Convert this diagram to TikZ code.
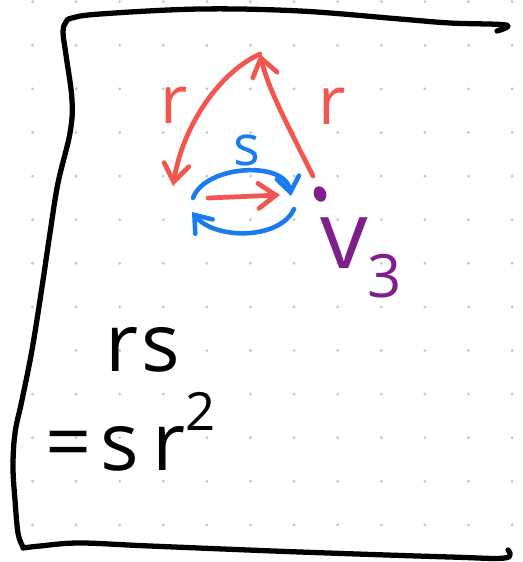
\documentclass[tikz,border=0pt]{standalone}
\usepackage{fontspec}
\setmainfont{Open Sans}
\usepackage{xcolor}
\usetikzlibrary{arrows.meta,shapes.geometric}

\definecolor{penred}{HTML}{F2564F}
\definecolor{penblue}{HTML}{1A7BF0}
\definecolor{penpurple}{HTML}{7E1F8A}

\begin{document}
\begin{tikzpicture}[
  x=0.02cm,y=-0.02cm,
  ink/.style={line width=3pt,line cap=round,line join=round},
  redarr/.style={ink,draw=penred,line width=2.7pt,-{Straight Barb[length=3.5mm,width=5mm,line cap=round]}},
  bluearr/.style={ink,draw=penblue,line width=2.6pt,-{Straight Barb[length=3mm,width=4.5mm,line cap=round]}},
  hand/.style={inner sep=0pt,font=\fontsize{40}{44}\selectfont},
  vdot/.style={ellipse,fill=penpurple,inner sep=0pt,minimum width=7pt,minimum height=9pt,rotate=20}
]
\useasboundingbox (0,0) rectangle (523,562);
\fill[white] (0,0) rectangle (523,562);

\foreach \i in {0,...,11}
  \foreach \j in {0,...,12}
    \fill[gray!45] (32.5+43.6*\i,1.7+43.6*\j) circle (0.9pt);

\draw[ink] plot[smooth,tension=0.6] coordinates {(497,31)(506,25)(450,23)(400,19)(300,11)(200,9)(100,14)(72,18)(66,22)(63,32)(66,55)(72,100)(70,133)(58,183)(50,233)(42,287)(32,350)(22,400)(15,433)(13,467)(15,500)(18,533)(23,547)};
\draw[ink] plot[smooth,tension=0.6] coordinates {(23,548)(40,546)(80,543)(150,546)(300,552)(450,557)(505,558)(508,550)};

\node[vdot] (vthree) at (320,194) {};
\coordinate (apex) at (260,54);
\coordinate (corner) at (173,186);
\coordinate (rstart) at (313,176);
\coordinate (rtail) at (208,198);
\coordinate (rhead) at (280,195);
\coordinate (ltop) at (193,198);
\coordinate (rtop) at (291,196);
\coordinate (rbot) at (294,209);
\coordinate (lbot) at (192,212);

\draw[redarr] (rstart) .. controls (285,120) and (268,88) .. (apex);
\draw[redarr] (apex) .. controls (220,72) and (183,125) .. (corner);
\draw[redarr] (rtail) -- (rhead);
\draw[bluearr] (ltop) .. controls (205,165) and (285,160) .. (rtop);
\draw[bluearr] (rbot) .. controls (280,240) and (215,240) .. (lbot);

\node[hand,text=penred,font=\fontsize{38}{40}\selectfont] (rleft) at (174,105) {r};
\node[hand,text=penred,font=\fontsize{38}{40}\selectfont] (rright) at (332,106) {r};
\node[hand,text=penblue,font=\fontsize{32}{36}\selectfont] (slabel) at (247,150) {s};
\node[hand,text=penpurple,font=\fontsize{54}{56}\selectfont,anchor=west] (vlabel) at (320,258) {v\raisebox{-0.3em}{\fontsize{34}{34}\selectfont 3}};

\node[hand,font=\fontsize{46}{50}\selectfont] (rs) at (143,350) {r\kern2pt s};
\node[hand,font=\fontsize{46}{50}\selectfont,anchor=west] (eq) at (45,432) {=\kern5pt s\kern8pt r\raisebox{0.5em}{\fontsize{30}{30}\selectfont 2}};
\end{tikzpicture}
\end{document}
